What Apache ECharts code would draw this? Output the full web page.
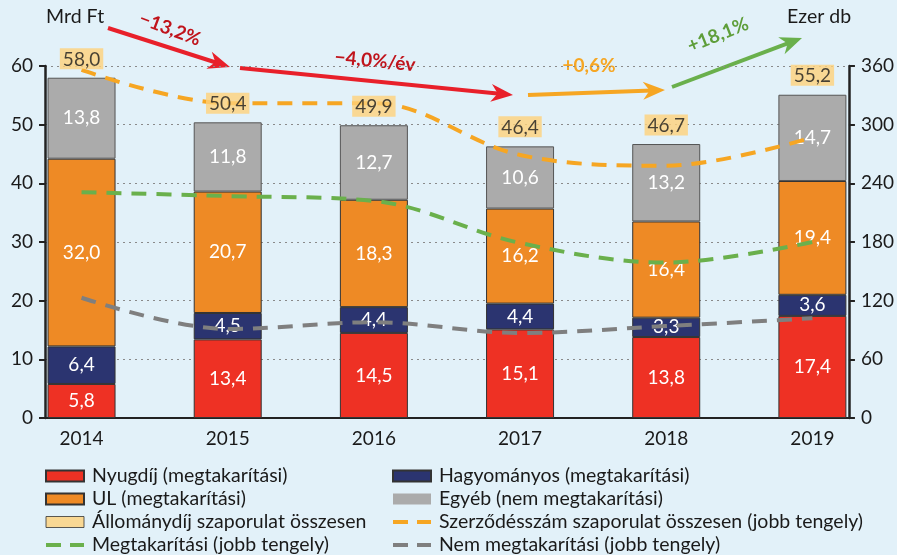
<!DOCTYPE html>
<html>
<head>
<meta charset="utf-8">
<script src="https://cdn.jsdelivr.net/npm/echarts@6/dist/echarts.min.js"></script>
<style>
html,body{margin:0;padding:0;background:#e2f1f9;}
#chart{width:897px;height:555px;}
</style>
</head>
<body>
<div id="chart"></div>
<script>
// adatok
var years = ['2014', '2015', '2016', '2017', '2018', '2019'];
var nyugdij = [5.8, 13.4, 14.5, 15.1, 13.8, 17.4];
var hagyomanyos = [6.4, 4.5, 4.4, 4.4, 3.3, 3.6];
var ul = [32.0, 20.7, 18.3, 16.2, 16.4, 19.4];
var egyeb = [13.8, 11.8, 12.7, 10.6, 13.2, 14.7];
var osszesen = [58.0, 50.4, 49.9, 46.4, 46.7, 55.2];
// jobb tengely (ezer db)
var szerzodes = [356, 322, 322, 269, 258, 287];
var megtakaritasi = [231, 227, 222, 179, 159, 180];
var nemMegtakaritasi = [123, 91, 98, 87, 94, 102];

var FONT = 'Lato';

// minden ev koze egy ures kategoria, igy a tick-ek az oszlopok szelein vannak
function spread(arr, gap) {
    var out = [];
    arr.forEach(function (v, i) {
        if (i > 0) out.push(gap);
        out.push(v);
    });
    return out;
}
function fmt(p) {
    return p.value.toFixed(1).replace('.', ',');
}

function arrow(x1, y1, x2, y2, color) {
    var dx = x2 - x1, dy = y2 - y1;
    var len = Math.sqrt(dx * dx + dy * dy);
    var ux = dx / len, uy = dy / len;
    var hl = 22, hw = 9;
    var bx = x2 - ux * hl, by = y2 - uy * hl;
    return [
        { type: 'line', shape: { x1: x1, y1: y1, x2: x2 - ux * hl * 0.6, y2: y2 - uy * hl * 0.6 },
          style: { stroke: color, lineWidth: 4 } },
        { type: 'polygon', shape: { points: [[x2, y2], [bx - uy * hw, by + ux * hw],
            [x2 - ux * hl * 0.7, y2 - uy * hl * 0.7], [bx + uy * hw, by - ux * hw]] },
          style: { fill: color } }
    ];
}
function note(txt, x, y, rot, color) {
    return { type: 'text', x: x, y: y, rotation: rot,
        style: { text: txt, fill: color, font: 'bold 19px "' + FONT + '"', align: 'center', verticalAlign: 'middle' } };
}

var chart = echarts.init(document.getElementById('chart'));

var graphics = [].concat(
    arrow(108, 28, 230, 67, '#e8202a'),
    arrow(240, 68, 513, 95, '#e8202a'),
    arrow(528, 95, 665, 90, '#f6a623'),
    arrow(672, 87, 802, 38, '#6ab04c'),
    [
        note('\u221213,2%', 170, 29, -0.36, '#c0141c'),
        note('\u22124,0%/\u00e9v', 375, 61, -0.1, '#c0141c'),
        note('+0,6%', 589, 66, 0, '#f6a623'),
        note('+18,1%', 718, 35, 0.38, '#5e9e3a'),
        { type: 'text', x: 46, y: 17, style: { text: 'Mrd Ft', fill: '#1a1a1a', font: '19.5px "' + FONT + '"', verticalAlign: 'middle' } },
        { type: 'text', x: 787, y: 17, style: { text: 'Ezer db', fill: '#1a1a1a', font: '19.5px "' + FONT + '"', verticalAlign: 'middle' } }
    ]
);

// szaggatott vonal ikon a jelmagyarazathoz
var dashIcon = 'path://M0,0M38,11M0,3.5h15v4h-15zM24,3.5h14v4h-14z';

var barLabel = { show: true, position: 'inside', color: '#fff', fontSize: 19, fontFamily: FONT, formatter: fmt };
var barBorder = { borderColor: '#333', borderWidth: 1 };
var legendText = { fontSize: 19.5, fontFamily: FONT, color: '#1a1a1a', padding: [0, 0, 0, 3] };

chart.setOption({
    backgroundColor: '#e2f1f9',
    animation: false,
    textStyle: { fontFamily: FONT },
    grid: { left: 45, right: 46, top: 66, bottom: 137 },
    legend: [{
        orient: 'vertical', left: 45, top: 466, padding: 0, itemWidth: 38, itemHeight: 11, itemGap: 3,
        textStyle: legendText,
        data: [
            { name: 'Nyugdíj (megtakarítási)', icon: 'rect' },
            { name: 'UL (megtakarítási)', icon: 'rect' },
            { name: 'Állománydíj szaporulat összesen', icon: 'rect',
              itemStyle: { color: '#ffd27a', borderColor: '#333', borderWidth: 1 } },
            { name: 'Megtakarítási (jobb tengely)', icon: dashIcon }
        ]
    }, {
        orient: 'vertical', left: 392, top: 466, padding: 0, itemWidth: 38, itemHeight: 11, itemGap: 3,
        textStyle: legendText,
        data: [
            { name: 'Hagyományos (megtakarítási)', icon: 'rect' },
            { name: 'Egyéb (nem megtakarítási)', icon: 'rect', itemStyle: { borderWidth: 0 } },
            { name: 'Szerződésszám szaporulat összesen (jobb tengely)', icon: dashIcon },
            { name: 'Nem megtakarítási (jobb tengely)', icon: dashIcon }
        ]
    }],
    xAxis: {
        type: 'category',
        data: spread(years, ''),
        axisLine: { lineStyle: { color: '#222', width: 2 } },
        axisTick: { interval: 0, length: 6, lineStyle: { color: '#222', width: 2 } },
        axisLabel: { interval: 0, fontSize: 19, color: '#1a1a1a', margin: 11 }
    },
    yAxis: [{
        type: 'value', min: 0, max: 60, interval: 10,
        axisLine: { show: true, lineStyle: { color: '#222', width: 2.5 } },
        axisTick: { show: true, length: 6, lineStyle: { color: '#222', width: 2 } },
        axisLabel: { fontSize: 19, color: '#1a1a1a', margin: 12 },
        splitLine: { lineStyle: { color: '#8a8a8a', type: [2, 4] } }
    }, {
        type: 'value', min: 0, max: 360, interval: 60, position: 'right',
        axisLine: { show: true, lineStyle: { color: '#222', width: 2.5 } },
        axisTick: { show: true, length: 6, lineStyle: { color: '#222', width: 2 } },
        axisLabel: { fontSize: 19, color: '#1a1a1a', margin: 12 },
        splitLine: { show: false }
    }],
    series: [{
        name: 'Nyugdíj (megtakarítási)', type: 'bar', stack: 'a', barWidth: 68,
        data: spread(nyugdij, '-'), itemStyle: Object.assign({ color: '#ee3124' }, barBorder), label: barLabel
    }, {
        name: 'Hagyományos (megtakarítási)', type: 'bar', stack: 'a',
        data: spread(hagyomanyos, '-'), itemStyle: Object.assign({ color: '#2b3470' }, barBorder), label: barLabel
    }, {
        name: 'UL (megtakarítási)', type: 'bar', stack: 'a',
        data: spread(ul, '-'), itemStyle: Object.assign({ color: '#ee8a25' }, barBorder), label: barLabel
    }, {
        name: 'Egyéb (nem megtakarítási)', type: 'bar', stack: 'a',
        data: spread(egyeb, '-'), itemStyle: { color: '#ababab', borderColor: '#555', borderWidth: 1 }, label: barLabel
    }, {
        name: 'Szerződésszám szaporulat összesen (jobb tengely)', type: 'line', yAxisIndex: 1,
        data: spread(szerzodes, null), connectNulls: true, smooth: 0.35, symbol: 'none', z: 3,
        itemStyle: { color: '#f6a623' },
        lineStyle: { color: '#f6a623', width: 4, type: [15, 10] }
    }, {
        name: 'Megtakarítási (jobb tengely)', type: 'line', yAxisIndex: 1,
        data: spread(megtakaritasi, null), connectNulls: true, smooth: 0.35, symbol: 'none', z: 3,
        itemStyle: { color: '#6ab04c' },
        lineStyle: { color: '#6ab04c', width: 4, type: [15, 10] }
    }, {
        name: 'Nem megtakarítási (jobb tengely)', type: 'line', yAxisIndex: 1,
        data: spread(nemMegtakaritasi, null), connectNulls: true, smooth: 0.35, symbol: 'none', z: 3,
        itemStyle: { color: '#7f7f7f' },
        lineStyle: { color: '#7f7f7f', width: 4, type: [15, 10] }
    }, {
        name: 'Állománydíj szaporulat összesen', type: 'scatter', yAxisIndex: 0,
        data: spread(osszesen, '-'), symbolSize: 1, z: 6, silent: true,
        itemStyle: { color: 'rgba(0,0,0,0)' },
        label: {
            show: true, position: 'top', distance: 8, formatter: fmt,
            backgroundColor: '#ffd27a', padding: [2, 3, 0, 3],
            fontSize: 19, fontFamily: FONT, color: '#1a1a1a'
        }
    }],
    graphic: graphics
});
</script>
</body>
</html>
